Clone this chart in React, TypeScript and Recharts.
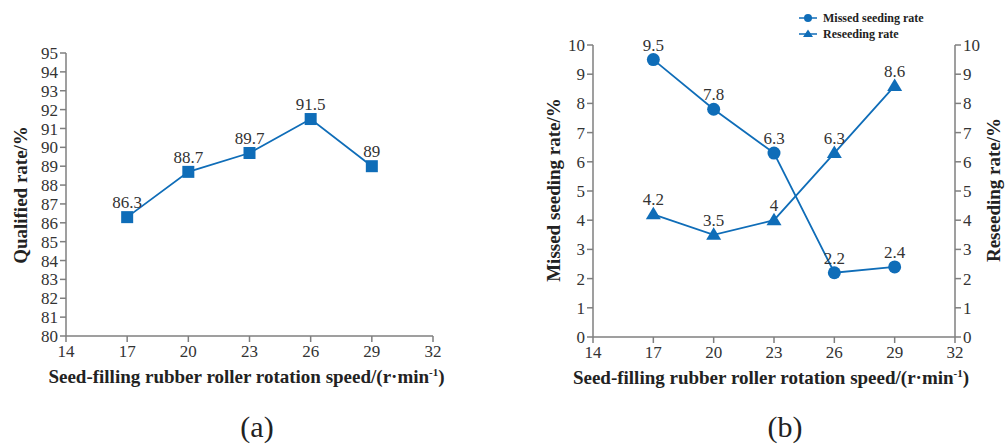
import React from 'react'
import { LineChart, Line, XAxis, YAxis, LabelList, Label } from 'recharts'

// rotation speed of the seed-filling rubber roller, r/min
const speeds = [17, 20, 23, 26, 29]
const qualifiedRate = [86.3, 88.7, 89.7, 91.5, 89]
const missedRate = [9.5, 7.8, 6.3, 2.2, 2.4]
const reseedingRate = [4.2, 3.5, 4, 6.3, 8.6]

const speedTicks = [14, 17, 20, 23, 26, 29, 32]
const qualifiedTicks = [80, 81, 82, 83, 84, 85, 86, 87, 88, 89, 90, 91, 92, 93, 94, 95]
const rateTicks = [0, 1, 2, 3, 4, 5, 6, 7, 8, 9, 10]

const BLUE = '#0f6db8'
const AXIS = '#7f7f7f'
const FONT = 'Liberation Serif, serif'

const qualifiedData = speeds.map((s, i) => ({ speed: s, qualified: qualifiedRate[i] }))
const seedingData = speeds.map((s, i) => ({ speed: s, missed: missedRate[i], reseeding: reseedingRate[i] }))

const tickStyle = { fontSize: 17, fill: '#333', fontFamily: FONT }
const valueStyle = { fontSize: 17, fill: '#333', fontFamily: FONT }

const XTitle = (props: any) => {
  const { viewBox } = props
  const cx = viewBox.x + viewBox.width / 2 - 3
  return (
    <text x={cx} y={viewBox.y + 47} textAnchor="middle" style={{ fontFamily: FONT }} fontWeight="bold" fontSize={19} fill="#222">
      Seed-filling rubber roller rotation speed/(r·min
      <tspan dy={-7} fontSize={11}>-1</tspan>
      <tspan dy={7}>)</tspan>
    </text>
  )
}

const YTitle = ({ x, y, text }: { x: number; y: number; text: string }) => (
  <text
    x={x}
    y={y}
    transform={`rotate(-90, ${x}, ${y})`}
    textAnchor="middle"
    dominantBaseline="central"
    style={{ fontFamily: FONT }}
    fontWeight="bold"
    fontSize={19}
    fill="#222"
  >
    {text}
  </text>
)

const Square = (props: any) => {
  const { cx, cy } = props
  return <rect x={cx - 6} y={cy - 6} width={12} height={12} fill={BLUE} />
}

const Dot = (props: any) => {
  const { cx, cy } = props
  return <circle cx={cx} cy={cy} r={6.5} fill={BLUE} />
}

const Tri = (props: any) => {
  const { cx, cy } = props
  return <polygon points={`${cx},${cy - 7.5} ${cx + 7.5},${cy + 5} ${cx - 7.5},${cy + 5}`} fill={BLUE} />
}

function LegendBox() {
  const row = (marker: React.ReactNode, text: string, y: number) => (
    <g>
      <line x1={0} x2={18} y1={y} y2={y} stroke={BLUE} strokeWidth={1.5} />
      {marker}
      <text x={24} y={y} dominantBaseline="central" style={{ fontFamily: FONT }} fontWeight="bold" fontSize={12} fill="#222">
        {text}
      </text>
    </g>
  )
  return (
    <svg width={160} height={44} style={{ position: 'absolute', left: 799, top: 8 }}>
      {row(<circle cx={9} cy={10} r={4} fill={BLUE} />, 'Missed seeding rate', 10)}
      {row(<polygon points="9,21.5 14,29 4,29" fill={BLUE} />, 'Reseeding rate', 26)}
    </svg>
  )
}

const Caption = ({ x, text }: { x: number; text: string }) => (
  <div
    style={{
      position: 'absolute',
      left: x - 40,
      top: 410,
      width: 80,
      textAlign: 'center',
      fontFamily: FONT,
      fontSize: 30,
      color: '#222',
    }}
  >
    {text}
  </div>
)

export default function App() {
  return (
    <div style={{ position: 'absolute', left: 0, top: 0, width: 1005, height: 448, background: '#fff', overflow: 'hidden', fontFamily: FONT }}>
      {/* (a) qualified rate */}
      <div style={{ position: 'absolute', left: 0, top: 0 }}>
        <LineChart width={460} height={448} data={qualifiedData} margin={{ top: 53, right: 27, left: 26, bottom: 62 }} style={{ fontFamily: FONT }}>
          <XAxis
            dataKey="speed"
            type="number"
            domain={[14, 32]}
            ticks={speedTicks}
            interval={0}
            height={50}
            stroke={AXIS}
            strokeWidth={1.5}
            tickSize={6}
            tickMargin={3}
            tick={tickStyle}
          >
            <Label content={<XTitle />} />
          </XAxis>
          <YAxis
            type="number"
            domain={[80, 95]}
            ticks={qualifiedTicks}
            interval={0}
            width={40}
            stroke={AXIS}
            strokeWidth={1.5}
            tickSize={6}
            tickMargin={2}
            tick={tickStyle}
          />
          <Line dataKey="qualified" stroke={BLUE} strokeWidth={1.8} dot={<Square />} isAnimationActive={false}>
            <LabelList dataKey="qualified" position="top" offset={9} style={valueStyle} />
          </Line>
        </LineChart>
        <svg width={40} height={448} style={{ position: 'absolute', left: 0, top: 0 }}>
          <YTitle x={20} y={195} text="Qualified rate/%" />
        </svg>
      </div>

      {/* (b) missed seeding and reseeding rates */}
      <div style={{ position: 'absolute', left: 530, top: 0 }}>
        <LineChart width={475} height={448} data={seedingData} margin={{ top: 45, right: 10, left: 23, bottom: 61 }} style={{ fontFamily: FONT }}>
          <XAxis
            dataKey="speed"
            type="number"
            domain={[14, 32]}
            ticks={speedTicks}
            interval={0}
            height={50}
            stroke={AXIS}
            strokeWidth={1.5}
            tickSize={6}
            tickMargin={3}
            tick={tickStyle}
          >
            <Label content={<XTitle />} />
          </XAxis>
          <YAxis
            yAxisId="left"
            type="number"
            domain={[0, 10]}
            ticks={rateTicks}
            interval={0}
            width={40}
            stroke={AXIS}
            strokeWidth={1.5}
            tickSize={6}
            tickMargin={2}
            tick={tickStyle}
          />
          <YAxis
            yAxisId="right"
            orientation="right"
            type="number"
            domain={[0, 10]}
            ticks={rateTicks}
            interval={0}
            width={40}
            stroke={AXIS}
            strokeWidth={1.5}
            tickSize={6}
            tickMargin={2}
            tick={tickStyle}
          />
          <Line yAxisId="left" dataKey="missed" stroke={BLUE} strokeWidth={1.8} dot={<Dot />} isAnimationActive={false}>
            <LabelList dataKey="missed" position="top" offset={9} style={valueStyle} />
          </Line>
          <Line yAxisId="right" dataKey="reseeding" stroke={BLUE} strokeWidth={1.8} dot={<Tri />} isAnimationActive={false}>
            <LabelList dataKey="reseeding" position="top" offset={9} style={valueStyle} />
          </Line>
        </LineChart>
        <svg width={475} height={448} style={{ position: 'absolute', left: 0, top: 0, pointerEvents: 'none' }}>
          <YTitle x={23} y={190} text="Missed seeding rate/%" />
          <YTitle x={463} y={190} text="Reseeding rate/%" />
        </svg>
      </div>

      <LegendBox />
      <Caption x={257} text="(a)" />
      <Caption x={785} text="(b)" />
    </div>
  )
}
